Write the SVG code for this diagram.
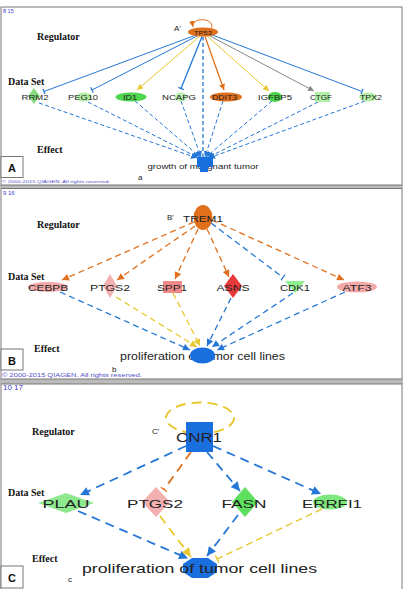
<svg xmlns="http://www.w3.org/2000/svg" width="404" height="589" viewBox="0 0 404 589">
<style>
.panel{fill:#fff;stroke:#777;stroke-width:1}
.sep{fill:#bbb}
.reg{font-family:"Liberation Serif",serif;font-weight:bold;font-size:10px;fill:#111}
.idx{font-family:"Liberation Sans",sans-serif;fill:#3a3ad0}
.copy{font-family:"Liberation Sans",sans-serif;fill:#5050c8}
.lbl{font-family:"Liberation Sans",sans-serif;fill:#222;text-anchor:middle}
.box{fill:#fff;stroke:#777;stroke-width:1}
.boxl{font-family:"Liberation Sans",sans-serif;font-weight:bold;font-size:11px;fill:#111;text-anchor:middle}
.sm{font-family:"Liberation Sans",sans-serif;font-size:8px;fill:#222}
.e{fill:none}
.bl{stroke:#2477d6}
.or{stroke:#e0701c}
.ye{stroke:#e8c832}
.gr{stroke:#888}
.a1{stroke-width:1}
.a2{stroke-width:1.3}
.a3{stroke-width:1.8}
.dA{stroke-dasharray:4 2.5}
.dB{stroke-dasharray:6 4}
.dC{stroke-dasharray:9 6}
</style>
<defs>
<marker id="abA" viewBox="0 0 10 10" refX="10" refY="5" markerUnits="userSpaceOnUse" markerWidth="6" markerHeight="6" orient="auto"><path d="M0,0L10,5L0,10z" fill="#2477d6"/></marker>
<marker id="aoA" viewBox="0 0 10 10" refX="10" refY="5" markerUnits="userSpaceOnUse" markerWidth="6" markerHeight="6" orient="auto"><path d="M0,0L10,5L0,10z" fill="#e0701c"/></marker>
<marker id="ayA" viewBox="0 0 10 10" refX="10" refY="5" markerUnits="userSpaceOnUse" markerWidth="6" markerHeight="6" orient="auto"><path d="M0,0L10,5L0,10z" fill="#e8c832"/></marker>
<marker id="agA" viewBox="0 0 10 10" refX="10" refY="5" markerUnits="userSpaceOnUse" markerWidth="6" markerHeight="6" orient="auto"><path d="M0,0L10,5L0,10z" fill="#888"/></marker>
<marker id="tbA" viewBox="0 0 10 10" refX="5" refY="5" markerUnits="userSpaceOnUse" markerWidth="6" markerHeight="6" orient="auto"><path d="M5,0L5,10" stroke="#2477d6" stroke-width="2"/></marker>
<marker id="abB" viewBox="0 0 10 10" refX="10" refY="5" markerUnits="userSpaceOnUse" markerWidth="8" markerHeight="7" orient="auto"><path d="M0,0L10,5L0,10z" fill="#2477d6"/></marker>
<marker id="aoB" viewBox="0 0 10 10" refX="10" refY="5" markerUnits="userSpaceOnUse" markerWidth="8" markerHeight="7" orient="auto"><path d="M0,0L10,5L0,10z" fill="#e0701c"/></marker>
<marker id="ayB" viewBox="0 0 10 10" refX="10" refY="5" markerUnits="userSpaceOnUse" markerWidth="8" markerHeight="7" orient="auto"><path d="M0,0L10,5L0,10z" fill="#e8c832"/></marker>
<marker id="tbB" viewBox="0 0 10 10" refX="5" refY="5" markerUnits="userSpaceOnUse" markerWidth="7" markerHeight="7" orient="auto"><path d="M5,0L5,10" stroke="#2477d6" stroke-width="1.6"/></marker>
<marker id="abC" viewBox="0 0 10 10" refX="10" refY="5" markerUnits="userSpaceOnUse" markerWidth="10" markerHeight="9" orient="auto"><path d="M0,0L10,5L0,10z" fill="#2477d6"/></marker>
<marker id="ayC" viewBox="0 0 10 10" refX="10" refY="5" markerUnits="userSpaceOnUse" markerWidth="10" markerHeight="9" orient="auto"><path d="M0,0L10,5L0,10z" fill="#e8c832"/></marker>
<marker id="toC" viewBox="0 0 10 10" refX="5" refY="5" markerUnits="userSpaceOnUse" markerWidth="8" markerHeight="8" orient="auto"><path d="M5,0L5,10" stroke="#e0701c" stroke-width="1.6"/></marker>
<marker id="tyC" viewBox="0 0 10 10" refX="5" refY="5" markerUnits="userSpaceOnUse" markerWidth="8" markerHeight="8" orient="auto"><path d="M5,0L5,10" stroke="#e8c832" stroke-width="1.6"/></marker>
</defs>

<rect x="0" y="0" width="404" height="589" fill="#fff"/>
<g id="frames">
<rect class="sep" x="0" y="185" width="403" height="3"/>
<rect class="sep" x="0" y="379" width="403" height="5"/>
<rect class="panel" x="1" y="7" width="401" height="178"/>
<rect class="panel" x="1" y="188.5" width="401" height="190.5"/>
<rect class="panel" x="1" y="384" width="401" height="206"/>
</g>

<g id="panelA-text">
<text class="idx" x="3" y="12.5" font-size="5.5">8 15</text>
<text class="reg" x="37" y="40">Regulator</text>
<text class="reg" x="8" y="85">Data Set</text>
<text class="reg" x="37" y="153">Effect</text>
<text class="sm" x="174" y="31" font-size="8">A'</text>
<text class="sm" x="138" y="180">a</text>
<text class="copy" x="2" y="183" font-size="4.3" textLength="108" lengthAdjust="spacingAndGlyphs">© 2000-2015 QIAGEN. All rights reserved.</text>
<text class="lbl" x="203" y="169" font-size="8" textLength="111" lengthAdjust="spacingAndGlyphs">growth of malignant tumor</text>
</g>

<g id="connectorsA">
<path class="e bl a1" d="M196,35L44,91.5" marker-end="url(#tbA)"/>
<path class="e bl a1" d="M198,35.5L92,90" marker-end="url(#tbA)"/>
<path class="e ye a1" d="M200,36L137,90" marker-end="url(#ayA)"/>
<path class="e bl" stroke-width="1.3" d="M202,36.5L181,88.5" marker-end="url(#tbA)"/>
<path class="e bl dA" stroke-width="1.3" d="M203,36.5L203,157"/>
<path class="e or" stroke-width="1.3" d="M205,36.5L224,90" marker-end="url(#aoA)"/>
<path class="e ye a1" d="M207,36L269,91" marker-end="url(#ayA)"/>
<path class="e gr a1" d="M209,35.5L314,91" marker-end="url(#agA)"/>
<path class="e bl a1" d="M211,34.5L362,91.5" marker-end="url(#tbA)"/>
<path class="e or a1" d="M211,29C217,18 191,16 193,27" marker-end="url(#aoA)"/>
<path class="e bl a1 dA" d="M39,103L197,158" marker-end="url(#abA)"/>
<path class="e bl a1 dA" d="M88,102L198,157.5" marker-end="url(#abA)"/>
<path class="e bl a1 dA" d="M135,101L200,157" marker-end="url(#abA)"/>
<path class="e bl a1 dA" d="M181,101L201,157" marker-end="url(#abA)"/>
<path class="e bl a1 dA" d="M223,101L205,157" marker-end="url(#abA)"/>
<path class="e bl a1 dA" d="M272,101L206,157" marker-end="url(#abA)"/>
<path class="e bl a1 dA" d="M318,102L208,157.5" marker-end="url(#abA)"/>
<path class="e bl a1 dA" d="M365,101L209,158" marker-end="url(#abA)"/>
</g>

<g id="TP53"><ellipse cx="203" cy="32" rx="15" ry="4.5" fill="#e0701c"/><text class="lbl" x="203" y="34.5" font-size="6" textLength="18" lengthAdjust="spacingAndGlyphs">TP53</text></g>
<g id="RRM2"><polygon points="34,88 40,96 34,104 28,96" fill="#86dc7e"/><text class="lbl" x="35" y="99.5" font-size="7.5" textLength="27" lengthAdjust="spacingAndGlyphs">RRM2</text></g>
<g id="PEG10"><ellipse cx="84" cy="97" rx="8" ry="4.5" fill="#b6f0a8"/><text class="lbl" x="83" y="99.5" font-size="7.5" textLength="30" lengthAdjust="spacingAndGlyphs">PEG10</text></g>
<g id="ID1"><ellipse cx="131" cy="97" rx="15.5" ry="4.5" fill="#4fd64f"/><text class="lbl" x="130" y="99.5" font-size="7.5" textLength="14" lengthAdjust="spacingAndGlyphs">ID1</text></g>
<g id="NCAPG"><ellipse cx="181" cy="97" rx="6" ry="4.5" fill="#b8f0b0"/><text class="lbl" x="179" y="99.5" font-size="7.5" textLength="34" lengthAdjust="spacingAndGlyphs">NCAPG</text></g>
<g id="DDIT3"><ellipse cx="226" cy="97" rx="16" ry="4.5" fill="#e0701c"/><text class="lbl" x="224.5" y="99.5" font-size="7.5" textLength="25" lengthAdjust="spacingAndGlyphs">DDIT3</text></g>
<g id="IGFBP5"><ellipse cx="275" cy="97" rx="7" ry="5" fill="#4ad44a"/><text class="lbl" x="275" y="99.5" font-size="7.5" textLength="34" lengthAdjust="spacingAndGlyphs">IGFBP5</text></g>
<g id="CTGF"><rect x="315" y="92" width="15" height="10" fill="#b0f0a8"/><text class="lbl" x="321" y="99.5" font-size="7.5" textLength="22" lengthAdjust="spacingAndGlyphs">CTGF</text></g>
<g id="TPX2"><ellipse cx="368" cy="97" rx="9" ry="4.5" fill="#b6f0a8"/><text class="lbl" x="371" y="99.5" font-size="7.5" textLength="22" lengthAdjust="spacingAndGlyphs">TPX2</text></g>
<g id="growth-of-malignant-tumor"><rect x="197" y="157" width="16" height="10" fill="#1a6fdf"/><rect x="200" y="166" width="8" height="6" fill="#1a6fdf"/></g>
<g id="boxA"><rect class="box" x="1" y="156.5" width="22" height="21"/><text class="boxl" x="12" y="172">A</text></g>

<g id="panelB-text">
<text class="idx" x="3" y="195" font-size="6">9 16</text>
<text class="reg" x="37" y="228">Regulator</text>
<text class="reg" x="8" y="280">Data Set</text>
<text class="reg" x="34" y="352">Effect</text>
<text class="sm" x="167" y="220" font-size="8">B'</text>
<text class="sm" x="112" y="372">b</text>
<text class="copy" x="2" y="377" font-size="5" textLength="140" lengthAdjust="spacingAndGlyphs">© 2000-2015 QIAGEN. All rights reserved.</text>
<text class="lbl" x="202.5" y="360" font-size="10" textLength="165" lengthAdjust="spacingAndGlyphs">proliferation of tumor cell lines</text>
</g>

<g id="connectorsB">
<path class="e or a2 dB" d="M194,222L62,280" marker-end="url(#aoB)"/>
<path class="e or a2 dB" d="M195,226L117,280" marker-end="url(#aoB)"/>
<path class="e or a2 dB" d="M198,229L175,279" marker-end="url(#aoB)"/>
<path class="e or a2 dB" d="M207,229L229,277" marker-end="url(#aoB)"/>
<path class="e bl a2 dB" d="M211,223L283,277.5" marker-end="url(#tbB)"/>
<path class="e or a2 dB" d="M212,220L344,280" marker-end="url(#aoB)"/>
<path class="e bl a2 dB" d="M60,292L190,350" marker-end="url(#abB)"/>
<path class="e ye a2 dB" d="M116,297L197,347" marker-end="url(#ayB)"/>
<path class="e ye a2 dB" d="M173,293L200,346" marker-end="url(#ayB)"/>
<path class="e bl a2 dB" d="M231,298L207,346" marker-end="url(#abB)"/>
<path class="e bl a2 dB" d="M293,293L212,347" marker-end="url(#abB)"/>
<path class="e bl a2 dB" d="M345,292L217,350" marker-end="url(#abB)"/>
</g>

<g id="TREM1"><ellipse cx="203" cy="217.5" rx="9.5" ry="12.5" fill="#e0701c"/><text class="lbl" x="203" y="222" font-size="9" textLength="40" lengthAdjust="spacingAndGlyphs">TREM1</text></g>
<g id="CEBPB"><ellipse cx="48" cy="287" rx="20" ry="5" fill="#f4a9a9"/><text class="lbl" x="48" y="290.5" font-size="9" textLength="40" lengthAdjust="spacingAndGlyphs">CEBPB</text></g>
<g id="PTGS2-B"><polygon points="110,274 117,286 110,298 103,286" fill="#f4b0b0"/><text class="lbl" x="110" y="290.5" font-size="9" textLength="40" lengthAdjust="spacingAndGlyphs">PTGS2</text></g>
<g id="SPP1"><rect x="163" y="281" width="19" height="12" fill="#f08a8a"/><text class="lbl" x="172" y="290.5" font-size="9" textLength="30" lengthAdjust="spacingAndGlyphs">SPP1</text></g>
<g id="ASNS"><polygon points="233,274 242,286 233,298 224,286" fill="#e83a3a"/><text class="lbl" x="233" y="290.5" font-size="9" textLength="33" lengthAdjust="spacingAndGlyphs">ASNS</text></g>
<g id="CDK1"><polygon points="285,281 305,281 295,293" fill="#8ef08e"/><text class="lbl" x="295" y="290.5" font-size="9" textLength="30" lengthAdjust="spacingAndGlyphs">CDK1</text></g>
<g id="ATF3"><ellipse cx="357" cy="287" rx="20" ry="5.5" fill="#f4a9a9"/><text class="lbl" x="357" y="290.5" font-size="9" textLength="29" lengthAdjust="spacingAndGlyphs">ATF3</text></g>
<g id="proliferation-B"><ellipse cx="202.5" cy="355.5" rx="12.5" ry="8" fill="#1a6fdf"/></g>
<g id="boxB"><rect class="box" x="1" y="349" width="22" height="21"/><text class="boxl" x="12" y="365">B</text></g>

<g id="panelC-text">
<text class="idx" x="3" y="390" font-size="8">10 17</text>
<text class="reg" x="32" y="435" font-size="9.5">Regulator</text>
<text class="reg" x="8" y="496">Data Set</text>
<text class="reg" x="32" y="562" font-size="9.5">Effect</text>
<text class="sm" x="152" y="434" font-size="8">C'</text>
<text class="sm" x="68" y="582" font-family="Liberation Serif" font-size="7">c</text>
</g>

<g id="connectorsC">
<ellipse class="e ye" stroke-width="2" stroke-dasharray="10 6" cx="200" cy="418" rx="34" ry="15.5"/>
<path class="e bl a3 dC" d="M186,446L80,495" marker-end="url(#abC)"/>
<path class="e or a3 dC" d="M191,452L164,489.5" marker-end="url(#toC)"/>
<path class="e bl a3 dC" d="M207,452L240,491" marker-end="url(#abC)"/>
<path class="e bl a3 dC" d="M213,446L321,494" marker-end="url(#abC)"/>
<path class="e bl a3 dC" d="M78,511L188,558.5" marker-end="url(#abC)"/>
<path class="e ye a3 dC" d="M160,516L191,557" marker-end="url(#ayC)"/>
<path class="e bl a3 dC" d="M238,515L207,556" marker-end="url(#abC)"/>
<path class="e ye" stroke-width="1.4" stroke-dasharray="7 4" d="M322,509L217,559" marker-end="url(#tyC)"/>
</g>

<g id="CNR1"><rect x="186" y="422" width="27" height="30" fill="#1a6fdf"/><text class="lbl" x="199" y="442" font-size="12" textLength="46" lengthAdjust="spacingAndGlyphs">CNR1</text></g>
<g id="PLAU"><polygon points="66,493 94,503 66,513 38,503" fill="#8ee88e"/><text class="lbl" x="66" y="507.5" font-size="11.5" textLength="47" lengthAdjust="spacingAndGlyphs">PLAU</text></g>
<g id="PTGS2-C"><polygon points="156,487 170,502 156,517 142,502" fill="#f4b0b0"/><text class="lbl" x="155" y="507.5" font-size="11.5" textLength="56" lengthAdjust="spacingAndGlyphs">PTGS2</text></g>
<g id="FASN"><polygon points="245,487 258,502 245,517 232,502" fill="#5ee05e"/><text class="lbl" x="244" y="507.5" font-size="11.5" textLength="45" lengthAdjust="spacingAndGlyphs">FASN</text></g>
<g id="ERRFI1"><ellipse cx="330" cy="502" rx="17" ry="7.5" fill="#7ee87e"/><text class="lbl" x="332" y="507.5" font-size="11.5" textLength="60" lengthAdjust="spacingAndGlyphs">ERRFI1</text></g>
<g id="proliferation-C"><polygon points="192,558 208,558 217,564 217,572 208,578 192,578 183,572 183,564" fill="#1a6fdf"/><text class="lbl" x="199.5" y="573" font-size="13" textLength="235" lengthAdjust="spacingAndGlyphs">proliferation of tumor cell lines</text></g>
<g id="boxC"><rect class="box" x="1" y="566" width="22" height="22"/><text class="boxl" x="12" y="582">C</text></g>
</svg>
